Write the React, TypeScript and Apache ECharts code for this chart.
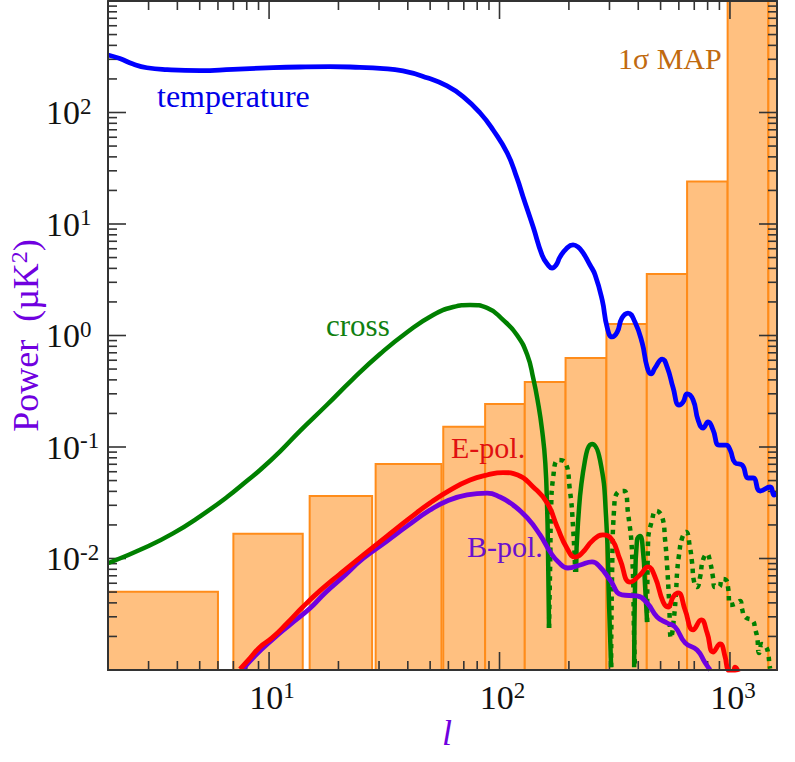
import * as React from "react";
import * as echarts from "echarts";

const FONT = "Liberation Serif";
const PURPLE = "#7000e0";

// sensitivity bins (1 sigma MAP)
const binLow = [2, 7, 15, 29, 57, 86.6, 128.7, 193.5, 291, 435.6, 651.6, 977, 1468];
const binHigh = [6, 14, 28, 56, 86.6, 128.7, 193.5, 291, 435.6, 651.6, 977, 1468, 1600];
const binSigma = [0.00504, 0.0167, 0.0364, 0.0705, 0.152, 0.243, 0.383, 0.628, 1.27, 3.56, 24, 1000, 1000];

const tempL = [2, 2.25, 2.57, 2.95, 3.61, 5.02, 6.97, 9.8, 13.6, 18.4, 24.8, 30.3, 38.1, 48.5, 59.2, 69.5, 82.4, 93.8, 108, 119, 126.6, 140, 153, 162.4, 169, 176, 183, 194.5, 208.5, 219, 230.5, 247, 260, 279, 293, 308, 324, 340, 361, 387, 416, 437, 455, 473, 508, 534, 567, 601, 626, 652, 692, 727, 764, 804, 845, 897, 962, 1002, 1053, 1129, 1199, 1260, 1352, 1494, 1555, 1600];
const tempPower = [328, 305, 272, 252, 242, 237, 244, 251, 256, 258, 254, 249, 236, 205, 173, 139, 99, 69.7, 43.3, 25.9, 17.5, 9.4, 5.27, 4.29, 4.03, 4.29, 5.06, 5.97, 6.49, 6.22, 5.5, 4.29, 3.49, 2.08, 1.19, 0.97, 1.07, 1.44, 1.59, 1.32, 0.857, 0.521, 0.452, 0.512, 0.615, 0.521, 0.338, 0.238, 0.253, 0.299, 0.264, 0.175, 0.148, 0.168, 0.142, 0.104, 0.104, 0.094, 0.072, 0.069, 0.0527, 0.0527, 0.0403, 0.0438, 0.0371, 0.038];

// cross spectrum, null = sign change
const crossL = [2, 2.95, 3.83, 5.02, 6.57, 8.1, 9.14, 11.2, 13.6, 17.8, 23.1, 30.3, 39.7, 51.5, 62.9, 74.5, 88.3, 103.6, 119, 132, 140, 147, 153, 158, 161, 162.4, 164, 165, 215, 219, 235, 252, 273, 290, 299, 305, 320, 384, 387, 395, 407, 420, 428, 437];
const crossPower = [0.00906, 0.01276, 0.0168, 0.0239, 0.0356, 0.0506, 0.0622, 0.092, 0.139, 0.238, 0.407, 0.682, 1.07, 1.53, 1.8, 1.88, 1.77, 1.38, 1.01, 0.668, 0.416, 0.248, 0.142, 0.0719, 0.0272, 0.0112, 0.00238, null, 0.00757, 0.0208, 0.0764, 0.1064, 0.0764, 0.0236, 0.00367, 0.00106, null, 0.00106, 0.00521, 0.01466, 0.0159, 0.0112, 0.00578, 0.00269];

// negative part of the cross spectrum, dotted
const crossNegL = [164, 166, 167.4, 171, 180, 192, 202, 208.5, 213, 260, 305, 308, 314, 327, 347, 361, 376, 384, 387, 410, 437, 441, 459, 478, 508, 523, 534, 544, 555, 572, 584, 590, 601, 620, 645, 671, 685, 699, 720, 742, 764, 796, 820, 845, 858, 897, 925, 962, 982, 1002, 1053, 1107, 1129, 1163, 1260, 1286, 1312, 1338, 1379, 1435, 1468, 1483, 1494];
const crossNegPower = [0.00238, 0.0097, 0.0272, 0.0538, 0.0764, 0.0735, 0.0411, 0.0192, 0.00757, null, 0.00106, 0.00741, 0.0272, 0.0394, 0.0403, 0.0256, 0.0112, 0.00186, 0.00106, null, 0.00269, 0.01377, 0.0221, 0.0267, 0.0236, 0.01466, 0.0084, 0.00425, 0.00194, 0.00299, 0.00521, 0.00757, 0.01074, 0.01528, 0.0173, 0.01242, 0.00912, 0.00615, 0.00555, 0.00682, 0.0097, 0.01096, 0.00931, 0.00668, 0.00555, 0.00555, 0.00655, 0.00641, 0.00543, 0.00383, 0.00391, 0.00416, 0.00352, 0.00299, 0.00275, 0.00233, 0.00198, 0.00142, 0.00171, 0.00161, 0.00136, 0.00113, 0.00103];

const ePolL = [7.48, 8.27, 9.14, 10.3, 12, 14, 16.6, 20.3, 25.6, 32.5, 40.9, 49.9, 61, 74.5, 88.3, 103.6, 120, 140, 161, 178, 196, 213, 228, 255, 281, 308, 334, 369, 407, 441, 473, 513, 539, 567, 596, 639, 692, 750, 796, 845, 906, 953, 982, 1030, 1053, 1086];
const ePolPower = [0.00102, 0.00128, 0.00161, 0.00194, 0.00264, 0.00367, 0.00512, 0.00726, 0.01074, 0.0159, 0.0231, 0.0315, 0.0411, 0.0506, 0.0561, 0.059, 0.0561, 0.0438, 0.0315, 0.0192, 0.01242, 0.0103, 0.0112, 0.01466, 0.01626, 0.01466, 0.0097, 0.00615, 0.00711, 0.0084, 0.00682, 0.00407, 0.00367, 0.00452, 0.00491, 0.00345, 0.00229, 0.00281, 0.00215, 0.00145, 0.00171, 0.00131, 0.001, 0.00096, 0.00106, 0.00096];

const bPolL = [7.71, 8.69, 10.3, 12.3, 15.1, 17.5, 20.7, 25.6, 32.5, 39.7, 49.9, 59.2, 72.3, 88.3, 100.5, 114.5, 132, 150, 166, 180, 198, 224, 252, 273, 302, 340, 395, 437, 483, 534, 578, 639, 720, 780, 820];
const bPolPower = [0.00102, 0.00134, 0.00186, 0.00254, 0.0036, 0.00491, 0.00668, 0.01, 0.01435, 0.0195, 0.0272, 0.0328, 0.0372, 0.0386, 0.0356, 0.0302, 0.0231, 0.01626, 0.01143, 0.00931, 0.00822, 0.00875, 0.00931, 0.0084, 0.00641, 0.00471, 0.00461, 0.00399, 0.00299, 0.00264, 0.00243, 0.00175, 0.00151, 0.00116, 0.001];

const xMin = 2, xMax = 1600, yMin = 1e-3, yMax = 1e3;
const xMajor = [10, 100, 1000];
const xMinor = [3, 4, 5, 6, 7, 8, 9, 20, 30, 40, 50, 60, 70, 80, 90, 200, 300, 400, 500, 600, 700, 800, 900];
const yMajor = [0.01, 0.1, 1, 10, 100];
const yMinor = [
  0.002, 0.003, 0.004, 0.005, 0.006, 0.007, 0.008, 0.009,
  0.02, 0.03, 0.04, 0.05, 0.06, 0.07, 0.08, 0.09,
  0.2, 0.3, 0.4, 0.5, 0.6, 0.7, 0.8, 0.9,
  2, 3, 4, 5, 6, 7, 8, 9,
  20, 30, 40, 50, 60, 70, 80, 90,
  200, 300, 400, 500, 600, 700, 800, 900,
];
const MAJOR_LEN = 18, MINOR_LEN = 9;

const zip = (a: number[], b: (number | null)[]) => a.map((v, i) => [v, b[i]]);

const tickStyle = { stroke: "#333", lineWidth: 1.6 };

function renderBin(_: any, api: any) {
  const base = api.coord([api.value(0), yMin]);
  const top = api.coord([api.value(1), api.value(2)]);
  return {
    type: "rect",
    shape: { x: base[0], y: top[1], width: top[0] - base[0], height: base[1] - top[1] },
    style: { fill: "#ffc080", stroke: "#ff8c1a", lineWidth: 2 },
  };
}

function renderXTick(_: any, api: any) {
  const v = api.value(0), len = api.value(1);
  const b = api.coord([v, yMin]), t = api.coord([v, yMax]);
  return {
    type: "group",
    children: [
      { type: "line", shape: { x1: b[0], y1: b[1], x2: b[0], y2: b[1] - len }, style: tickStyle },
      { type: "line", shape: { x1: t[0], y1: t[1], x2: t[0], y2: t[1] + len }, style: tickStyle },
    ],
  };
}

function renderYTick(_: any, api: any) {
  const v = api.value(0), len = api.value(1);
  const l = api.coord([xMin, v]), r = api.coord([xMax, v]);
  return {
    type: "group",
    children: [
      { type: "line", shape: { x1: l[0], y1: l[1], x2: l[0] + len, y2: l[1] }, style: tickStyle },
      { type: "line", shape: { x1: r[0], y1: r[1], x2: r[0] - len, y2: r[1] }, style: tickStyle },
    ],
  };
}

const powerLabel = (majors: number[]) => (v: number) => {
  if (!majors.some(m => Math.abs(m - v) / m < 1e-6)) return "";
  return `{b|10}{s|${Math.round(Math.log10(v))}}`;
};

const labelRich = {
  b: { fontFamily: FONT, fontSize: 34, color: "#111" },
  s: { fontFamily: FONT, fontSize: 23, color: "#111", padding: [0, 0, 13, 0] },
};
const xLabelRich = {
  b: { ...labelRich.b, padding: [0, 0, 0, 6] },
  s: labelRich.s,
};

const spine = { show: true, lineStyle: { color: "#333", width: 2 } };

function curve(name: string, data: any[], color: string, width: number, dash?: number[]) {
  return {
    type: "line", name, data, showSymbol: false, symbol: "none", smooth: 0.5, z: 4,
    connectNulls: false,
    lineStyle: { color, width, type: dash ?? "solid", cap: "butt" as const, join: "round" as const },
  };
}

function label(text: string, left: number, top: number, fill: string, fontSize = 30) {
  return { type: "text", left, top, z: 10, style: { text, fill, fontFamily: FONT, fontSize } };
}

export default function App() {
  const ref = React.useRef<HTMLDivElement>(null);
  React.useEffect(() => {
    if (!ref.current) return;
    const chart = echarts.init(ref.current as HTMLDivElement, undefined, { renderer: "svg" });
    chart.setOption({
      animation: false,
      grid: { left: 108, top: 1, width: 669, height: 669, outerBoundsMode: "none" },
      xAxis: [
        {
          type: "log", logBase: 10, min: xMin, max: xMax, position: "bottom", z: 6,
          axisLine: spine, axisTick: { show: false }, splitLine: { show: false },
          axisLabel: { formatter: powerLabel(xMajor), rich: xLabelRich, margin: 9, showMinLabel: false, showMaxLabel: false, hideOverlap: false },
          name: "l", nameLocation: "middle", nameGap: 45, nameMoveOverlap: false,
          nameTextStyle: { fontFamily: FONT, fontSize: 36, fontStyle: "italic", color: PURPLE, padding: [0, 0, 0, 9] },
        },
        {
          type: "log", logBase: 10, min: xMin, max: xMax, position: "top", z: 6,
          axisLine: spine, axisTick: { show: false }, axisLabel: { show: false }, splitLine: { show: false },
        },
      ],
      yAxis: [
        {
          type: "log", logBase: 10, min: yMin, max: yMax, position: "left", z: 6,
          axisLine: spine, axisTick: { show: false }, splitLine: { show: false },
          axisLabel: { formatter: powerLabel(yMajor), rich: labelRich, margin: 62, align: "left", showMinLabel: false, showMaxLabel: false, hideOverlap: false },
          name: "{p|Power  (\u00b5K}{q|2}{p|)}", nameLocation: "middle", nameGap: 63, nameRotate: 90, nameMoveOverlap: false,
          nameTextStyle: {
            rich: {
              p: { fontFamily: FONT, fontSize: 36, color: PURPLE },
              q: { fontFamily: FONT, fontSize: 24, color: PURPLE, padding: [0, 0, 14, 0] },
            },
          },
        },
        {
          type: "log", logBase: 10, min: yMin, max: yMax, position: "right", z: 6,
          axisLine: spine, axisTick: { show: false }, axisLabel: { show: false }, splitLine: { show: false },
        },
      ],
      series: [
        {
          type: "custom", name: "1 sigma MAP", renderItem: renderBin, z: 1, silent: true,
          encode: { x: [0, 1], y: 2 },
          data: binLow.map((lo, i) => [lo, binHigh[i], binSigma[i]]),
        },
        {
          type: "custom", name: "x ticks", renderItem: renderXTick, z: 2, silent: true,
          encode: { x: 0, y: 1 },
          data: [...xMajor.map(v => [v, MAJOR_LEN]), ...xMinor.map(v => [v, MINOR_LEN])],
        },
        {
          type: "custom", name: "y ticks", renderItem: renderYTick, z: 2, silent: true,
          encode: { y: 0, x: 1 },
          data: [...yMajor.map(v => [v, MAJOR_LEN]), ...yMinor.map(v => [v, MINOR_LEN])],
        },
        curve("temperature", zip(tempL, tempPower), "#0000ff", 4.8),
        curve("cross (negative)", zip(crossNegL, crossNegPower), "#008000", 4.5, [4.5, 5]),
        curve("cross", zip(crossL, crossPower), "#008000", 4.5),
        curve("B-pol.", zip(bPolL, bPolPower), PURPLE, 4.8),
        curve("E-pol.", zip(ePolL, ePolPower), "#ff0000", 4.8),
      ],
      graphic: [
        label("temperature", 157, 80, "#0000e8", 32),
        label("cross", 326, 310, "#108010", 31),
        label("E-pol.", 451, 432, "#e01010"),
        label("B-pol.", 467, 531, "#6a10d0"),
        label("1\u03c3 MAP", 618, 43, "#c06a10"),
      ],
    });
    return () => { chart.dispose(); };
  }, []);
  return <div ref={ref} style={{ position: "absolute", left: 0, top: 0, width: 795, height: 762 }} />;
}
